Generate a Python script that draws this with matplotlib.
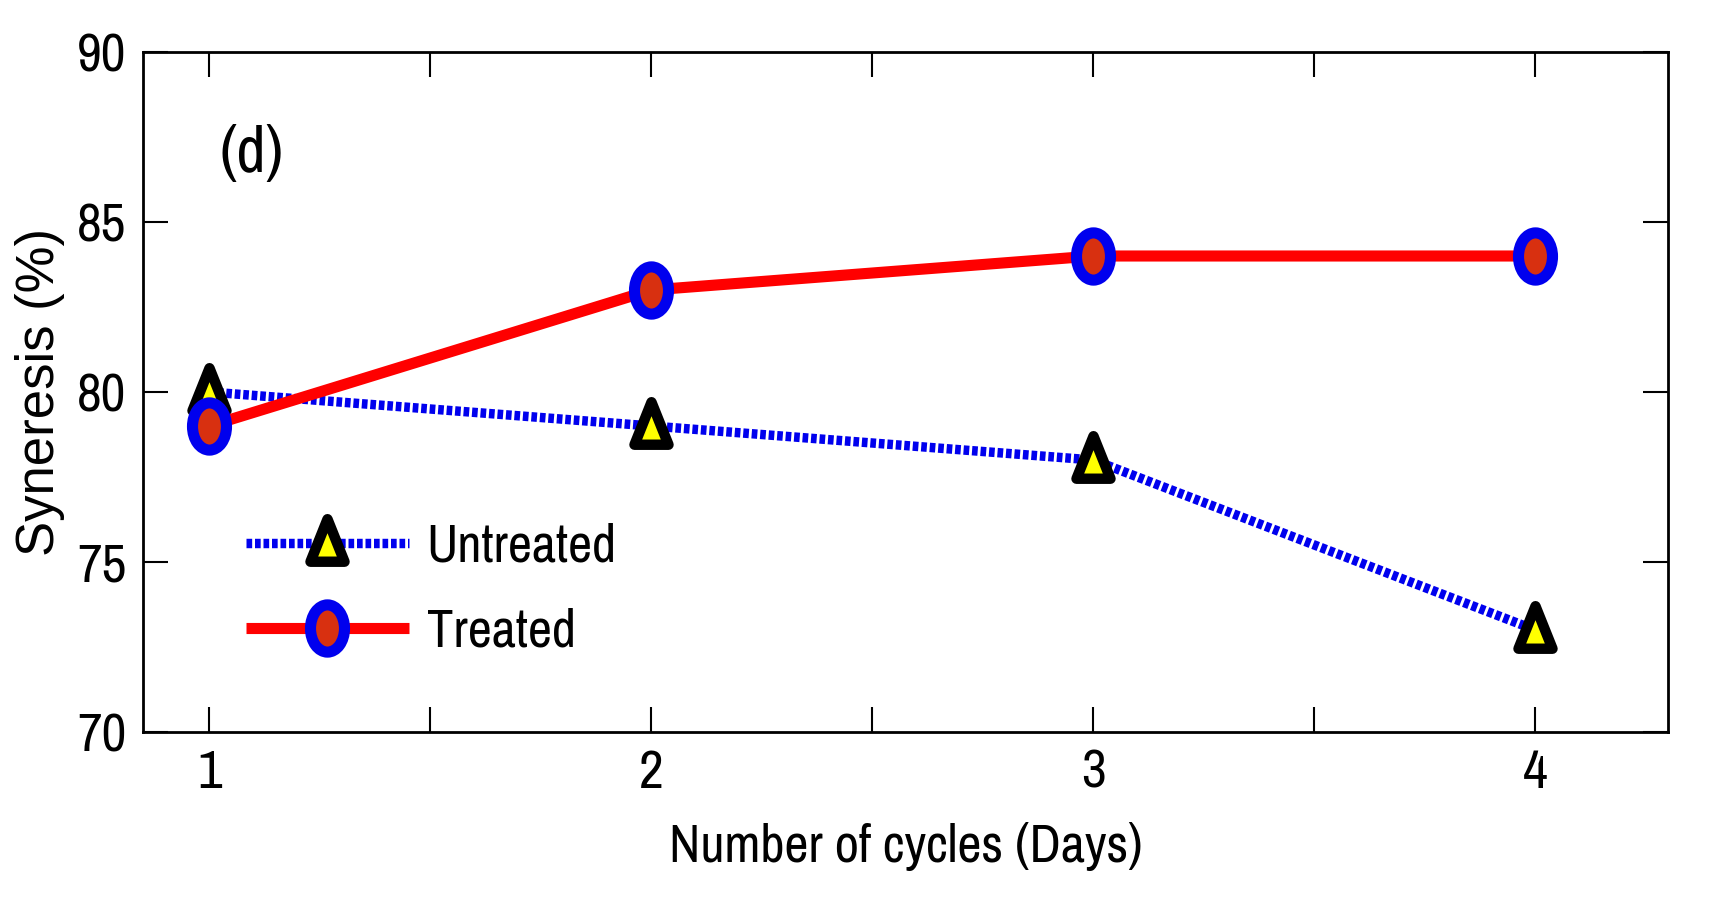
import matplotlib
matplotlib.use("Agg")
import matplotlib.pyplot as plt
from matplotlib.path import Path
from matplotlib.transforms import Affine2D

# узкий шрифт, как в оригинале
plt.rcParams['font.family'] = ['Archivo Narrow', 'Liberation Sans', 'DejaVu Sans']

# Данные
cycles = [1, 2, 3, 4]
untreated = [80, 79, 78, 73]
treated = [79, 83, 84, 84]
x_ticks = [1, 2, 3, 4]
x_minor = [1.5, 2.5, 3.5]
y_ticks = [70, 75, 80, 85, 90]

# вытянутые маркеры
ellipse = Path.unit_circle().transformed(Affine2D().scale(0.72, 1.0))
tri = Path([(0, 1), (0.7, -0.75), (-0.7, -0.75), (0, 1)],
           [Path.MOVETO, Path.LINETO, Path.LINETO, Path.CLOSEPOLY])

fig = plt.figure(figsize=(17.11, 9.06), dpi=100)
ax = fig.add_axes([143 / 1711, 1 - 732 / 906, (1668 - 143) / 1711, (732 - 52) / 906])

ax.plot(cycles, untreated, color='#0000ee', lw=6.8, dashes=(0.6, 0.3),
        dash_capstyle='butt', marker=tri, ms=35, mfc='#ffff00', mec='black',
        mew=7.5, label='Untreated', zorder=3)
ax.plot(cycles, treated, color='#ff0000', lw=8, solid_capstyle='butt',
        marker=ellipse, ms=34, mfc='#d83010', mec='#0000ee', mew=8,
        label='Treated', zorder=4)

ax.set_xlim(0.85, 4.3)
ax.set_ylim(70, 90)
ax.set_xticks(x_ticks)
ax.set_xticks(x_minor, minor=True)
ax.set_yticks(y_ticks)
ax.tick_params(which='both', direction='in', top=True, right=True,
               length=18, width=1.5, labelsize=39, pad=12)
for s in ax.spines.values():
    s.set_linewidth(2)

ax.set_xlabel('Number of cycles (Days)', fontsize=38, labelpad=18)
ax.set_ylabel('Syneresis (%)', fontsize=38, family=['Liberation Sans', 'DejaVu Sans'])
ax.yaxis.set_label_coords(-0.0675, 0.5)
ax.yaxis.label.set_va('center')
ax.text(1.095, 87, '(d)', fontsize=46, ha='center', va='center')

ax.legend(loc='center left', bbox_to_anchor=(0.05, 0.21), frameon=False,
          borderpad=0, fontsize=38, handlelength=3.1, handletextpad=0.33,
          labelspacing=0.7)

fig.savefig('out.png', dpi=100)
